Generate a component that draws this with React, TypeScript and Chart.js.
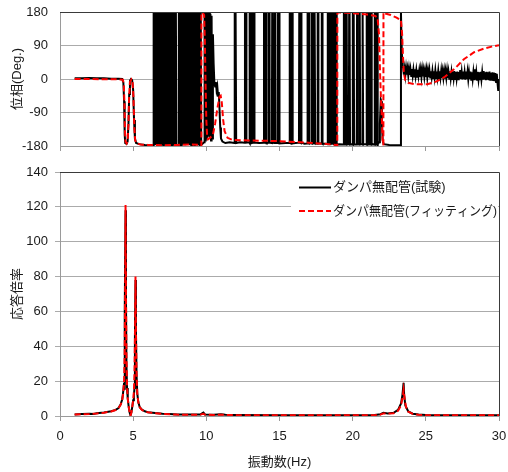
import React, { useEffect, useRef } from 'react';
import { Chart, registerables } from 'chart.js';

Chart.register(...registerables);

// ---------- data ----------
const seriesNames = ['ダンパ無配管(試験)', 'ダンパ無配管(フィッティング)'];
const phaseTitle = '位相(Deg.)';
const ampTitle = '応答倍率';
const freqTitle = '振動数(Hz)';

const freqTicks = [0, 5, 10, 15, 20, 25, 30];
const phaseTicks = [-180, -90, 0, 90, 180];
const ampTicks = [0, 20, 40, 60, 80, 100, 120, 140];

// phase, test (Hz, deg)
const phaseTest: [number, number][] = [
  [1.0, 2], [1.5, 2], [2.0, 3], [2.5, 2], [3.0, 2], [3.5, 1], [4.0, 1], [4.25, 0], [4.33, -10], [4.38, -60],
  [4.42, -150], [4.46, -172], [4.55, -174], [4.62, -168], [4.68, -120], [4.73, -40], [4.78, -5], [4.85, 0],
  [4.93, -3], [5.0, -30], [5.06, -110], [5.12, -160], [5.2, -172], [5.4, -175], [5.8, -177], [6.2, -178], [6.38, -178],
  [6.40, 180], [6.45, -178], [6.50, 180], [6.55, -177], [6.60, 180], [6.65, -178], [6.70, 180], [6.75, -176],
  [6.80, 180], [6.85, -178], [6.90, 180], [6.95, -177], [7.00, 180], [7.05, -178], [7.10, 180], [7.15, -176],
  [7.20, 180], [7.25, -178], [7.30, 180], [7.35, -177], [7.40, 180], [7.45, -178], [7.50, 180], [7.55, -177],
  [7.60, 180], [7.62, -178],
  [7.66, -177], [7.68, 180], [7.72, -177], [7.76, 180], [7.80, -176], [7.84, 180], [7.88, -177], [7.92, 180], [7.95, -177],
  [8.08, -177],
  [8.12, 180], [8.17, -177], [8.22, 180], [8.27, -178], [8.32, 180], [8.37, -176], [8.42, 180], [8.47, -177],
  [8.52, 180], [8.57, -178], [8.62, 180], [8.67, -177], [8.72, 180], [8.77, -176], [8.82, 180], [8.87, -178],
  [8.92, 180], [8.97, -177], [9.02, 180], [9.07, -176], [9.12, 180], [9.17, -178], [9.22, 180], [9.27, -177],
  [9.32, 180], [9.37, -176], [9.42, 180], [9.47, -178], [9.52, 180], [9.57, -177], [9.62, 180], [9.65, -177],
  [9.85, -170], [9.88, 180], [9.92, -165], [9.96, 178], [10.0, -160], [10.04, 180], [10.08, -150], [10.12, 180],
  [10.16, -155], [10.2, 180], [10.24, -160], [10.28, 175], [10.32, -165], [10.36, 170], [10.4, -160], [10.45, 120],
  [10.5, 40], [10.55, -10], [10.6, -20], [10.65, -8], [10.7, -30], [10.75, -20], [10.8, -45], [10.85, -35],
  [10.9, -80], [10.95, -130], [11.0, -160], [11.1, -168], [11.3, -172], [11.6, -170], [11.92, -172],
  [11.94, 180], [11.96, -172], [11.98, 180], [12.0, -171], [12.02, 180], [12.04, -172],
  [12.3, -170], [12.62, -171],
  [12.64, 180], [12.66, -171], [12.68, 180], [12.70, -170], [12.72, 180], [12.74, -171],
  [12.93, -170],
  [12.95, 180], [12.97, -172], [12.99, 180], [13.01, -171], [13.03, 180], [13.05, -170], [13.07, 180], [13.09, -172],
  [13.17, -171], [13.19, 180], [13.21, -172], [13.23, 180], [13.25, -170], [13.27, 180], [13.29, -171],
  [13.6, -172], [13.92, -171],
  [13.94, 180], [13.96, -171], [13.98, 180], [14.0, -170], [14.02, 180], [14.04, -172], [14.06, 180], [14.08, -171],
  [14.1, 180], [14.12, -172],
  [14.25, -171], [14.27, 180], [14.29, -171], [14.31, 180], [14.33, -171],
  [14.48, -172], [14.5, 180], [14.52, -172], [14.54, 180], [14.56, -171], [14.64, -172], [14.66, 180], [14.68, -171],
  [14.70, 180], [14.72, -172],
  [14.88, -172], [14.9, 180], [14.92, -173], [14.94, 180], [14.96, -172], [14.98, 180], [15.0, -173],
  [15.4, -172], [15.68, -172],
  [15.7, 180], [15.72, -171], [15.74, 180], [15.76, -172], [15.84, -173], [15.86, 180], [15.88, -171], [15.9, 180], [15.92, -173],
  [16.1, -172], [16.33, -171],
  [16.35, 180], [16.37, -172], [16.39, 180], [16.41, -171], [16.46, -172], [16.48, 180], [16.50, -171],
  [16.7, -174], [16.88, -173],
  [16.9, 180], [16.92, -173], [16.94, 180], [16.96, -172], [17.0, -173], [17.02, 180], [17.04, -172],
  [17.18, -173],
  [17.2, 180], [17.22, -173], [17.24, 180], [17.26, -172], [17.28, 180], [17.3, -173], [17.36, -172], [17.38, 180],
  [17.40, -173], [17.42, 180], [17.44, -173],
  [17.58, -174], [17.6, 180], [17.62, -174], [17.64, 180], [17.66, -173],
  [17.87, -173], [17.89, 180], [17.91, -173], [17.93, 180], [17.95, -174],
  [18.1, -174], [18.28, -174],
  [18.3, 180], [18.32, -175], [18.34, 180], [18.36, -174], [18.38, 180], [18.40, -175], [18.42, 180], [18.44, -173],
  [18.5, -174], [18.52, 180], [18.54, -175], [18.56, 180], [18.58, -174], [18.60, 180], [18.62, -175], [18.64, 180],
  [18.66, -174], [18.72, -175], [18.74, 180], [18.76, -174], [18.78, 180], [18.80, -175], [18.82, 180], [18.84, -176],
  [18.86, 180], [18.88, -175], [18.90, 180], [18.92, -176],
  [19.1, -175], [19.38, -176],
  [19.4, 180], [19.42, -176], [19.44, 180], [19.46, -175], [19.54, -176], [19.56, 180], [19.58, -175], [19.6, 180],
  [19.62, -176], [19.74, -175], [19.76, 180], [19.78, -176], [19.8, 180], [19.82, -176],
  [19.98, -175], [20.0, 180], [20.02, -176], [20.04, 180], [20.06, -175], [20.08, 180], [20.1, -176],
  [20.28, -176],
  [20.3, 180], [20.32, -176], [20.34, 180], [20.36, -175], [20.44, -176], [20.46, 180], [20.48, -175], [20.50, 180],
  [20.52, -176], [20.64, -175], [20.66, 180], [20.68, -176], [20.70, 180], [20.72, -175],
  [20.93, -175],
  [20.95, 180], [20.97, -176], [20.99, 180], [21.01, -175], [21.03, 180], [21.05, -176], [21.1, -175], [21.12, 180],
  [21.14, -176], [21.16, 180], [21.18, -175], [21.24, -176], [21.26, 180], [21.28, -175], [21.30, 180], [21.32, -176],
  [21.48, -175],
  [21.5, 180], [21.52, -176], [21.54, 180], [21.56, -175], [21.64, -176], [21.66, 180], [21.68, -175], [21.70, 180], [21.72, -176],
  [21.8, -170], [21.86, -120],
  [21.92, -55], [21.96, -60], [22.0, -120], [22.05, -165], [22.12, -175], [22.5, -177], [23.0, -178], [23.28, -178],
  [23.3, 180], [23.34, 100], [23.38, 50], [23.42, 32],
  [23.45, 30], [23.5, 12], [23.55, 28], [23.6, 10], [23.65, 30], [23.7, 12], [23.75, 27], [23.8, 9], [23.85, 28],
  [23.9, 11], [23.95, 26], [24.0, 8], [24.05, 27], [24.1, 9], [24.15, 25], [24.2, 7], [24.25, 26], [24.3, 8],
  [24.35, 24], [24.4, 6], [24.45, 25], [24.5, 8], [24.55, 23], [24.6, 6], [24.65, 24], [24.7, 5], [24.75, 25],
  [24.8, 7], [24.85, 23], [24.9, 5], [24.95, 22], [25.0, 6], [25.05, 24], [25.1, 4], [25.15, 22], [25.2, 5],
  [25.25, 23], [25.3, 4], [25.35, 21], [25.4, 5], [25.45, 22], [25.5, 3], [25.55, 21], [25.6, 4], [25.65, 23],
  [25.7, 3], [25.75, 20], [25.8, 4], [25.85, 22], [25.9, 2], [25.95, 21], [26.0, 4], [26.05, 22], [26.1, 2],
  [26.15, 20], [26.2, 3], [26.25, 21], [26.3, 1], [26.35, 20], [26.4, 3], [26.45, 22], [26.5, 2], [26.55, 19],
  [26.6, 1], [26.65, 21], [26.7, 2], [26.75, 19], [26.8, 0], [26.85, 20], [26.9, 2], [26.95, 21], [27.0, 0],
  [27.05, 19], [27.1, 1], [27.15, 20], [27.2, -1], [27.25, 19], [27.3, 1], [27.35, 24], [27.4, 0], [27.45, 19],
  [27.5, -1], [27.55, 20], [27.6, 0], [27.65, 18], [27.7, -2], [27.75, 20], [27.8, 0], [27.85, 19], [27.9, -1],
  [27.95, 18], [28.0, 0], [28.05, 20], [28.1, -2], [28.15, 18], [28.2, 0], [28.25, 19], [28.3, -1], [28.35, 26],
  [28.4, 0], [28.45, 18], [28.5, -2], [28.55, 19], [28.6, -1], [28.65, 18], [28.7, -3], [28.75, 19], [28.8, -1],
  [28.85, 18], [28.9, -2], [28.95, 21], [29.0, -1], [29.05, 18], [29.1, -3], [29.15, 19], [29.2, -2], [29.25, 18],
  [29.3, -3], [29.35, 20], [29.4, -2], [29.45, 17], [29.5, -4], [29.55, 18], [29.6, -3], [29.65, 17], [29.7, -6],
  [29.75, 16], [29.8, -8], [29.85, 14], [29.9, -12], [29.95, -32], [30.0, 0],
];

// phase, fitting (Hz, deg)
const phaseFit: [number, number][] = [
  [1.0, 0], [2.0, 0], [3.0, -1], [4.0, -1], [4.3, -2], [4.36, -15], [4.4, -60], [4.44, -140], [4.48, -168],
  [4.55, -173], [4.62, -166], [4.68, -120], [4.72, -50], [4.78, -8], [4.88, -1], [4.96, -8], [5.02, -50],
  [5.08, -130], [5.14, -165], [5.22, -172], [5.5, -176], [6.0, -177], [7.0, -178], [8.0, -177], [9.0, -176],
  [9.64, -177], [9.66, -179], [9.665, 179], [9.75, 178], [9.85, 172], [9.9, 100], [9.95, -20], [10.0, -110],
  [10.05, -150], [10.12, -162], [10.2, -160], [10.45, -150], [10.6, -120], [10.75, -80], [10.9, -48], [10.98, -45],
  [11.06, -65], [11.15, -110], [11.25, -140], [11.45, -158], [11.8, -164], [13.0, -165], [14.0, -166], [15.0, -167],
  [16.0, -169], [17.0, -171], [18.0, -174], [18.9, -177], [18.95, -179], [18.955, 179], [19.5, 178], [20.0, 177],
  [20.5, 175], [21.0, 173], [21.5, 170], [21.7, 165], [21.8, 120], [21.87, 20], [21.93, -50], [21.98, -90],
  [22.04, -160], [22.1, -178], [22.105, 179], [22.2, 176], [22.6, 172], [23.0, 165], [23.3, 158], [23.38, 120],
  [23.44, 60], [23.5, 15], [23.6, -3], [23.8, -10], [24.2, -14], [25.1, -14], [25.7, -7], [26.3, 6], [27.0, 29],
  [27.6, 53], [28.3, 72], [29.0, 82], [29.5, 87], [30.0, 91],
];

// response ratio, test (Hz, value)
const ampTest: [number, number][] = [
  [1.0, 0.9], [1.5, 1.1], [2.0, 1.3], [2.3, 1.2], [2.5, 1.6], [3.0, 2.0], [3.5, 2.7], [3.8, 3.5], [4.0, 4.6],
  [4.15, 6.8], [4.25, 9.5], [4.32, 14], [4.38, 19], [4.41, 15], [4.44, 60], [4.48, 118], [4.51, 65], [4.54, 30],
  [4.58, 16], [4.63, 10], [4.7, 5], [4.76, 2], [4.82, 0.4], [4.88, 2.2], [4.95, 6], [5.0, 9], [5.05, 12],
  [5.09, 16], [5.12, 45], [5.16, 78], [5.19, 48], [5.23, 24], [5.28, 13], [5.35, 8], [5.45, 5], [5.6, 3.6],
  [5.8, 2.7], [6.0, 2.2], [6.5, 1.7], [7.0, 1.3], [7.5, 1.1], [8.0, 0.9], [9.0, 0.8], [9.6, 0.9], [9.8, 2.0],
  [9.9, 0.9], [10.5, 0.7], [11.0, 1.0], [11.3, 0.7], [12.0, 0.6], [15.0, 0.5], [20.0, 0.5], [21.5, 0.6],
  [21.9, 1.0], [22.1, 1.8], [22.4, 1.5], [22.8, 1.8], [23.1, 3.5], [23.3, 7], [23.4, 12], [23.48, 19],
  [23.52, 12], [23.6, 6], [23.8, 2.6], [24.1, 1.3], [24.5, 0.8], [25.0, 0.6], [30.0, 0.5],
];

// response ratio, fitting (Hz, value)
const ampFit: [number, number][] = [
  [1.0, 0.8], [1.5, 1.0], [2.0, 1.2], [2.5, 1.5], [3.0, 1.9], [3.5, 2.6], [3.8, 3.4], [4.0, 4.5], [4.15, 6.5],
  [4.25, 9], [4.32, 13], [4.38, 20], [4.42, 35], [4.45, 70], [4.48, 121], [4.51, 70], [4.54, 35], [4.58, 17],
  [4.63, 10], [4.7, 5], [4.76, 2], [4.82, 0.3], [4.88, 2], [4.95, 6], [5.0, 9], [5.05, 14], [5.09, 25],
  [5.13, 50], [5.16, 80], [5.19, 50], [5.23, 25], [5.28, 13], [5.35, 8], [5.45, 5], [5.6, 3.5], [5.8, 2.6],
  [6.0, 2.1], [6.5, 1.6], [7.0, 1.2], [7.5, 1.0], [8.0, 0.8], [9.0, 0.7], [9.6, 0.8], [9.8, 1.3], [9.9, 0.8],
  [10.5, 0.6], [11.0, 0.7], [12.0, 0.5], [15.0, 0.4], [20.0, 0.4], [21.5, 0.5], [21.9, 0.8], [22.1, 1.5],
  [22.4, 1.4], [22.8, 1.6], [23.1, 3], [23.3, 6], [23.42, 11], [23.48, 15], [23.55, 10], [23.65, 5],
  [23.8, 2.5], [24.1, 1.2], [24.5, 0.7], [25.0, 0.5], [30.0, 0.4],
];

// ---------- styles ----------
const FONT = "'Liberation Sans', Arial, 'Noto Sans CJK JP', sans-serif";
const GRID = '#ababab';
const AXIS = '#9a9a9a';
const FRAME = '#3a3a3a';
const TEXT = '#1a1a1a';
const BLACK = '#000000';
const RED = '#ff0000';

const toXY = (arr: [number, number][]) => arr.map(([x, y]) => ({ x, y }));

const noPad = (s: any) => {
  s.paddingLeft = 0;
  s.paddingRight = 0;
  s.paddingTop = 0;
  s.paddingBottom = 0;
};

const framePlugin = {
  id: 'frame',
  afterDatasetsDraw(chart: any) {
    const { ctx, chartArea: a } = chart;
    ctx.save();
    ctx.strokeStyle = FRAME;
    ctx.lineWidth = 1;
    ctx.setLineDash([]);
    ctx.beginPath();
    ctx.moveTo(a.left, Math.round(a.top) + 0.5);
    ctx.lineTo(Math.round(a.right) + 0.5, Math.round(a.top) + 0.5);
    ctx.lineTo(Math.round(a.right) + 0.5, a.bottom);
    ctx.stroke();
    ctx.restore();
  },
};

const legendPlugin = {
  id: 'boxLegend',
  afterDatasetsDraw(chart: any) {
    const { ctx, chartArea: a } = chart;
    const items = [
      { label: seriesNames[0], color: BLACK, dash: [] as number[] },
      { label: seriesNames[1], color: RED, dash: [6, 3] },
    ];
    ctx.save();
    ctx.fillStyle = '#ffffff';
    ctx.fillRect(a.right - 208, a.top + 4, 207, 44);
    items.forEach((it, i) => {
      const y = a.top + 15.5 + i * 23.5;
      ctx.beginPath();
      ctx.strokeStyle = it.color;
      ctx.lineWidth = 2;
      ctx.setLineDash(it.dash);
      ctx.moveTo(a.right - 200, y);
      ctx.lineTo(a.right - 168, y);
      ctx.stroke();
      ctx.setLineDash([]);
      ctx.font = `13px ${FONT}`;
      ctx.fillStyle = TEXT;
      ctx.textAlign = 'left';
      ctx.textBaseline = 'middle';
      ctx.fillText(it.label, a.right - 166, y, 164);
    });
    ctx.restore();
  },
};

const tickFont = { family: FONT, size: 13 };

export default function App() {
  const topRef = useRef<HTMLCanvasElement>(null);
  const botRef = useRef<HTMLCanvasElement>(null);

  useEffect(() => {
    const top = new Chart(topRef.current as HTMLCanvasElement, {
      type: 'line',
      data: {
        datasets: [
          {
            label: seriesNames[1], data: toXY(phaseFit), borderColor: RED, borderWidth: 2,
            borderDash: [6, 3], pointRadius: 0, tension: 0, order: 0,
          },
          {
            label: seriesNames[0], data: toXY(phaseTest), borderColor: BLACK, borderWidth: 2,
            pointRadius: 0, tension: 0, order: 1,
          },
        ],
      },
      options: {
        animation: false,
        responsive: false,
        maintainAspectRatio: false,
        layout: { padding: { top: 12, right: 9, left: 0, bottom: 0 } },
        plugins: { legend: { display: false }, tooltip: { enabled: false } },
        scales: {
          x: {
            type: 'linear', min: 0, max: 30,
            afterBuildTicks: (s: any) => { s.ticks = freqTicks.map((v) => ({ value: v })); },
            ticks: { display: false },
            grid: { display: true, drawOnChartArea: false, drawTicks: true, tickLength: 5, color: AXIS },
            border: { display: true, color: AXIS },
            afterFit: (s: any) => { s.height = 10; noPad(s); },
          },
          y: {
            type: 'linear', min: -180, max: 180,
            afterBuildTicks: (s: any) => { s.ticks = phaseTicks.map((v) => ({ value: v })); },
            ticks: { font: tickFont, color: TEXT, padding: 12 },
            grid: { color: GRID, drawTicks: false },
            border: { display: true, color: AXIS },
            title: { display: true, text: phaseTitle, font: { family: FONT, size: 13 }, color: TEXT, padding: { top: 10, bottom: 0 } },
            afterFit: (s: any) => { s.width = 60; noPad(s); },
          },
        },
      } as any,
      plugins: [framePlugin],
    });

    const bot = new Chart(botRef.current as HTMLCanvasElement, {
      type: 'line',
      data: {
        datasets: [
          {
            label: seriesNames[1], data: toXY(ampFit), borderColor: RED, borderWidth: 2,
            borderDash: [6, 3], pointRadius: 0, tension: 0, order: 0,
          },
          {
            label: seriesNames[0], data: toXY(ampTest), borderColor: BLACK, borderWidth: 2,
            pointRadius: 0, tension: 0, order: 1,
          },
        ],
      },
      options: {
        animation: false,
        responsive: false,
        maintainAspectRatio: false,
        layout: { padding: { top: 16, right: 9, left: 0, bottom: 0 } },
        plugins: { legend: { display: false }, tooltip: { enabled: false } },
        scales: {
          x: {
            type: 'linear', min: 0, max: 30,
            afterBuildTicks: (s: any) => { s.ticks = freqTicks.map((v) => ({ value: v })); },
            ticks: { font: tickFont, color: TEXT, padding: 8, maxRotation: 0 },
            grid: { display: true, drawOnChartArea: false, drawTicks: true, tickLength: 5, color: AXIS },
            border: { display: true, color: AXIS },
            title: { display: true, text: freqTitle, font: { family: FONT, size: 13 }, color: TEXT, padding: { top: 0, bottom: 2 } },
            afterFit: (s: any) => { s.height = 56; noPad(s); },
          },
          y: {
            type: 'linear', min: 0, max: 140,
            afterBuildTicks: (s: any) => { s.ticks = ampTicks.map((v) => ({ value: v })); },
            ticks: { font: tickFont, color: TEXT, padding: 7 },
            grid: { color: GRID, drawTicks: true, tickLength: 5 },
            border: { display: true, color: AXIS },
            title: { display: true, text: ampTitle, font: { family: FONT, size: 13 }, color: TEXT, padding: { top: 10, bottom: 0 } },
            afterFit: (s: any) => { s.width = 60; noPad(s); },
          },
        },
      } as any,
      plugins: [framePlugin, legendPlugin],
    });

    return () => {
      top.destroy();
      bot.destroy();
    };
  }, []);

  return (
    <div style={{ position: 'absolute', left: 0, top: 0, width: 508, height: 472, background: '#ffffff' }}>
      <canvas ref={topRef} width={508} height={156}
        style={{ position: 'absolute', left: 0, top: 0, width: 508, height: 156 }} />
      <canvas ref={botRef} width={508} height={316}
        style={{ position: 'absolute', left: 0, top: 156, width: 508, height: 316 }} />
    </div>
  );
}
